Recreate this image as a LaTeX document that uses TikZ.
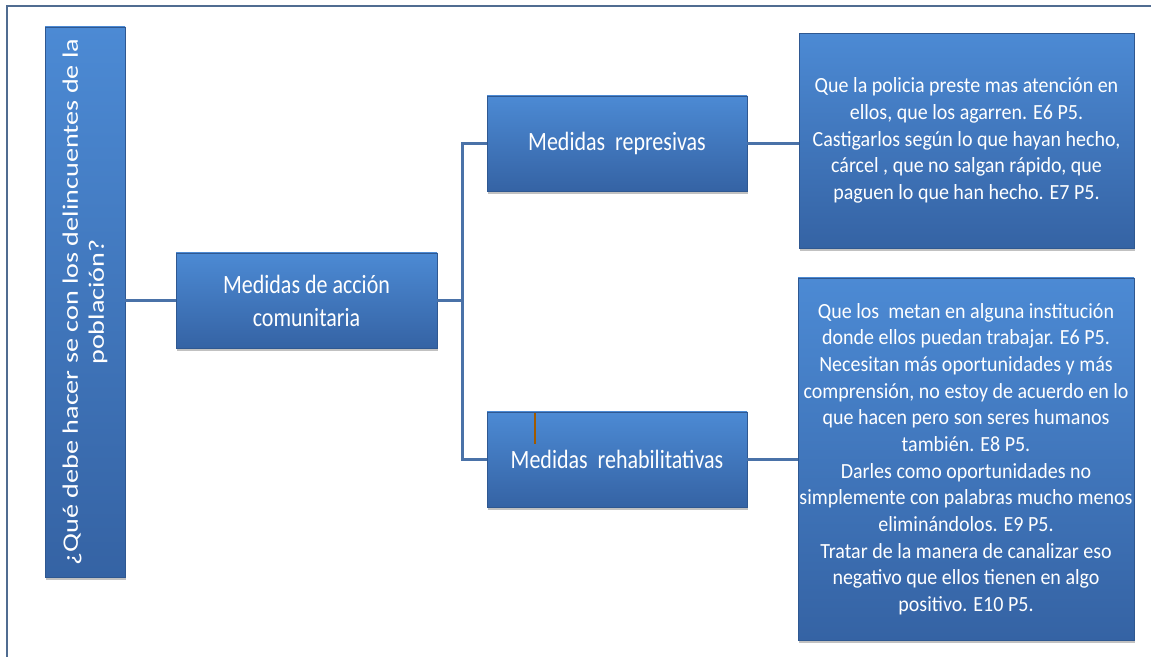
\documentclass[tikz,border=0pt]{standalone}
\usepackage{fontspec}
\setmainfont{Carlito}
\usepackage{xcolor}
\usetikzlibrary{shadows}

\definecolor{azulclaro}{RGB}{76,138,212}
\definecolor{azuloscuro}{RGB}{53,99,164}
\definecolor{bordecaja}{RGB}{47,88,145}
\definecolor{lineaazul}{RGB}{74,114,168}
\definecolor{marco}{RGB}{80,108,145}
\definecolor{naranja}{RGB}{160,90,0}

\tikzset{
  caja/.style={rectangle, draw=bordecaja, line width=0.8pt,
    top color=azulclaro, bottom color=azuloscuro, text=white,
    align=center, inner sep=0.5pt,
    drop shadow={shadow xshift=1pt, shadow yshift=-3pt, opacity=0.35, fill=black!70}},
  estirar/.style={yscale=#1, transform shape},
  conector/.style={draw=lineaazul, line width=3pt},
  grande/.style={font=\fontsize{22}{27.5}\selectfont},
  chico/.style={font=\fontsize{20}{24.7}\selectfont},
}

\begin{document}
\begin{tikzpicture}[x=1pt, y=-1pt]
  % page size of the reference
  \useasboundingbox (0,0) rectangle (1151,656);
  \clip (0,0) rectangle (1151,656);
  % outer frame
  \draw[marco, line width=2.5pt] (7,6) rectangle (1170,675);

  % question and first level
  \node[caja, estirar=1.28, font=\fontsize{22}{26}\selectfont, rotate=90,
        minimum width=429.7, minimum height=80] (pregunta) at (85,302)
    {¿Qué debe hacer se con los delincuentes de la\\población?};
  \node[caja, estirar=1.2, grande, minimum width=261, minimum height=79.2] (comunitaria) at (306.5,300.5)
    {Medidas de acción\\comunitaria};

  % second level
  \node[caja, estirar=1.2, grande, minimum width=260, minimum height=79.2] (represivas) at (617,143.5)
    {Medidas~ represivas};
  \node[caja, estirar=1.2, grande, minimum width=260, minimum height=79.2] (rehabilitativas) at (617,459.5)
    {Medidas~ rehabilitativas};

  % answers
  \node[caja, estirar=1.08, chico, minimum width=335, minimum height=199] (resprep) at (966.5,140.5)
    {Que la policia preste mas atención en\\
     ellos, que los agarren. E6 P5.\\
     Castigarlos según lo que hayan hecho,\\
     cárcel , que no salgan rápido, que\\
     paguen lo que han hecho. E7 P5.};
  \node[caja, estirar=1.08, chico, minimum width=336, minimum height=335.2] (resphab) at (966,459)
    {Que los~ metan en alguna institución\\
     donde ellos puedan trabajar. E6 P5.\\
     Necesitan más oportunidades y más\\
     comprensión, no estoy de acuerdo en lo\\
     que hacen pero son seres humanos\\
     también. E8 P5.\\
     Darles como oportunidades no\\
     simplemente con palabras mucho menos\\
     eliminándolos. E9 P5.\\
     Tratar de la manera de canalizar eso\\
     negativo que ellos tienen en algo\\
     positivo. E10 P5.};

  % connectors
  \coordinate (tronco) at (462,300.5);
  \draw[conector] (comunitaria.west -| pregunta.south) -- (comunitaria.west);
  \draw[conector] (comunitaria.east) -- (tronco);
  \draw[conector] (represivas.west) -| (tronco) |- (rehabilitativas.west);
  \draw[conector] (represivas.east) -- (represivas.east -| resprep.west);
  \draw[conector] (rehabilitativas.east) -- (rehabilitativas.east -| resphab.west);

  % small mark in the box
  \draw[naranja, line width=2pt] (535,413) -- (535,444);
\end{tikzpicture}
\end{document}
